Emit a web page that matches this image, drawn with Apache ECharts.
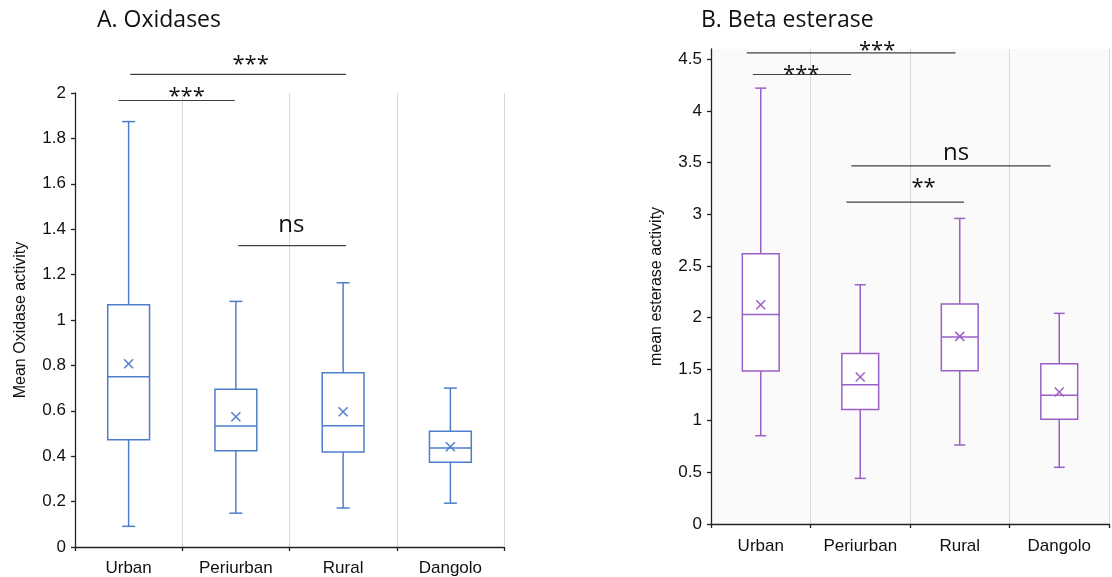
<!DOCTYPE html>
<html>
<head>
<meta charset="utf-8">
<script src="https://cdn.jsdelivr.net/npm/echarts@6/dist/echarts.min.js"></script>
<style>html,body{margin:0;padding:0;background:#fff}#c{width:1112px;height:577px}</style>
</head>
<body>
<div id="c"></div>
<script>
const categories = ['Urban', 'Periurban', 'Rural', 'Dangolo'];

// A. Oxidases
const oxLow    = [0.091, 0.149, 0.172, 0.193];
const oxQ1     = [0.473, 0.424, 0.418, 0.373];
const oxMedian = [0.750, 0.533, 0.534, 0.436];
const oxQ3     = [1.067, 0.695, 0.768, 0.510];
const oxHigh   = [1.874, 1.082, 1.164, 0.700];
const oxMean   = [0.807, 0.574, 0.596, 0.442];
const oxTicks  = [0, 0.2, 0.4, 0.6, 0.8, 1, 1.2, 1.4, 1.6, 1.8, 2];

// B. Beta esterase
const esLow    = [0.855, 0.442, 0.765, 0.549];
const esQ1     = [1.481, 1.110, 1.484, 1.014];
const esMedian = [2.030, 1.349, 1.810, 1.246];
const esQ3     = [2.617, 1.652, 2.130, 1.552];
const esHigh   = [4.221, 2.317, 2.959, 2.040];
const esMean   = [2.123, 1.423, 1.817, 1.278];
const esTicks  = [0, 0.5, 1, 1.5, 2, 2.5, 3, 3.5, 4, 4.5];

// significance brackets: [from (category units), to, y value, label x, label y]
const oxBracketLabels = ['***', '***', 'ns'];
const oxBrackets = [
  [-0.093, 0.990, 1.967, 0.541, 2.004],
  [ 0.015, 2.027, 2.082, 1.137, 2.147],
  [ 1.023, 2.027, 1.328, 1.518, 1.415]
];
const esBracketLabels = ['***', '***', 'ns', '**'];
const esBrackets = [
  [-0.140, 1.957, 4.562, 1.170, 4.627],
  [-0.079, 0.907, 4.353, 0.407, 4.395],
  [ 0.911, 2.912, 3.469, 1.963, 3.579],
  [ 0.861, 2.042, 3.117, 1.636, 3.304]
];

const boxData = (lo, q1, md, q3, hi, mn) =>
  categories.map((c, i) => [i, lo[i], q1[i], md[i], q3[i], hi[i], mn[i]]);

function boxRenderer(color, boxRatio, capW) {
  return function (params, api) {
    const idx = api.value(0);
    const bw = api.size([1, 0])[0];
    const w = bw * boxRatio;
    const pLo = api.coord([idx, api.value(1)]);
    const pQ1 = api.coord([idx, api.value(2)]);
    const pMd = api.coord([idx, api.value(3)]);
    const pQ3 = api.coord([idx, api.value(4)]);
    const pHi = api.coord([idx, api.value(5)]);
    const pMn = api.coord([idx, api.value(6)]);
    const x = pMd[0];
    const st = { stroke: color, lineWidth: 1.5, fill: null };
    const line = (x1, y1, x2, y2) => ({ type: 'line', shape: { x1, y1, x2, y2 }, style: st });
    const m = 4.5;
    return {
      type: 'group',
      children: [
        line(x, pQ3[1], x, pHi[1]),
        line(x - capW / 2, pHi[1], x + capW / 2, pHi[1]),
        line(x, pQ1[1], x, pLo[1]),
        line(x - capW / 2, pLo[1], x + capW / 2, pLo[1]),
        { type: 'rect', shape: { x: x - w / 2, y: pQ3[1], width: w, height: pQ1[1] - pQ3[1] },
          style: { stroke: color, lineWidth: 1.5, fill: '#ffffff' } },
        line(x - w / 2, pMd[1], x + w / 2, pMd[1]),
        line(pMn[0] - m, pMn[1] - m, pMn[0] + m, pMn[1] + m),
        line(pMn[0] - m, pMn[1] + m, pMn[0] + m, pMn[1] - m)
      ]
    };
  };
}

function bracketRenderer(labels) {
  return function (params, api) {
    const bw = api.size([1, 0])[0];
    const base = api.coord([0, 0])[0];
    const y = api.coord([0, api.value(2)])[1];
    const x1 = base + api.value(0) * bw;
    const x2 = base + api.value(1) * bw;
    const lx = base + api.value(3) * bw;
    const ly = api.coord([0, api.value(4)])[1];
    const lab = labels[params.dataIndex];
    const isStar = lab.indexOf('*') >= 0;
    return {
      type: 'group',
      children: [
        { type: 'line', shape: { x1, y1: y, x2, y2: y }, style: { stroke: '#404040', lineWidth: 1.2 } },
        { type: 'text', style: {
            text: lab, x: lx, y: ly + (isStar ? 5 : -1),
            align: 'center', verticalAlign: 'middle',
            font: (isStar ? '22px' : '24px') + ' "Open Sans", sans-serif',
            fill: '#111'
        } }
      ]
    };
  };
}

const axisCommon = {
  axisLine: { show: true, lineStyle: { color: '#222', width: 1.3 } },
  axisTick: { show: true, length: 4, lineStyle: { color: '#222', width: 1.3 } }
};

const chart = echarts.init(document.getElementById('c'), null, { renderer: 'canvas' });
chart.setOption({
  animation: false,
  backgroundColor: '#ffffff',
  graphic: [
    { type: 'text', left: 97, top: 9, style: { text: 'A. Oxidases', font: '23px "Open Sans", sans-serif', fill: '#111' } },
    { type: 'text', left: 701, top: 9, style: { text: 'B. Beta esterase', font: '23px "Open Sans", sans-serif', fill: '#111' } }
  ],
  grid: [
    { left: 75, right: 608, top: 93, bottom: 30, show: false },
    { left: 711, right: 3, top: 49, bottom: 53, show: true, backgroundColor: '#fafafa', borderWidth: 0 }
  ],
  xAxis: [0, 1].map(g => Object.assign({
    type: 'category', gridIndex: g, data: categories, boundaryGap: true,
    axisLabel: { color: '#111', fontSize: 17, margin: g === 0 ? 13 : 14, fontFamily: '"Liberation Sans", Arial, sans-serif' },
    splitLine: { show: true, lineStyle: { color: '#d9d9d9', width: 1 } }
  }, axisCommon)),
  yAxis: [
    Object.assign({
      type: 'value', gridIndex: 0, min: 0, max: 2, interval: 0.2,
      name: 'Mean Oxidase activity', nameLocation: 'middle', nameGap: 46,
      nameTextStyle: { color: '#111', fontSize: 16, fontFamily: '"Liberation Sans", Arial, sans-serif' },
      axisLabel: { color: '#111', fontSize: 17, margin: 9, fontFamily: '"Liberation Sans", Arial, sans-serif',
                   customValues: oxTicks },
      axisTick: { show: true, length: 4, lineStyle: { color: '#222', width: 1.3 }, customValues: oxTicks },
      splitLine: { show: false }
    }, { axisLine: axisCommon.axisLine }),
    Object.assign({
      type: 'value', gridIndex: 1, min: 0, max: 4.6, interval: 0.5,
      name: 'mean esterase activity', nameLocation: 'middle', nameGap: 46,
      nameTextStyle: { color: '#111', fontSize: 16, fontFamily: '"Liberation Sans", Arial, sans-serif' },
      axisLabel: { color: '#111', fontSize: 17, margin: 9, fontFamily: '"Liberation Sans", Arial, sans-serif',
                   customValues: esTicks },
      axisTick: { show: true, length: 4, lineStyle: { color: '#222', width: 1.3 }, customValues: esTicks },
      splitLine: { show: false }
    }, { axisLine: axisCommon.axisLine })
  ],
  series: [
    { type: 'custom', xAxisIndex: 0, yAxisIndex: 0, renderItem: boxRenderer('#4d7ecb', 0.39, 13),
      data: boxData(oxLow, oxQ1, oxMedian, oxQ3, oxHigh, oxMean), encode: { x: 0, y: [1, 2, 3, 4, 5, 6] }, z: 3 },
    { type: 'custom', xAxisIndex: 1, yAxisIndex: 1, renderItem: boxRenderer('#9a5fc8', 0.37, 11),
      data: boxData(esLow, esQ1, esMedian, esQ3, esHigh, esMean), encode: { x: 0, y: [1, 2, 3, 4, 5, 6] }, z: 3 },
    { type: 'custom', xAxisIndex: 0, yAxisIndex: 0, renderItem: bracketRenderer(oxBracketLabels),
      data: oxBrackets, encode: { x: -1, y: 2 }, clip: false, z: 4 },
    { type: 'custom', xAxisIndex: 1, yAxisIndex: 1, renderItem: bracketRenderer(esBracketLabels),
      data: esBrackets, encode: { x: -1, y: 2 }, clip: false, z: 4 }
  ]
});
</script>
</body>
</html>
